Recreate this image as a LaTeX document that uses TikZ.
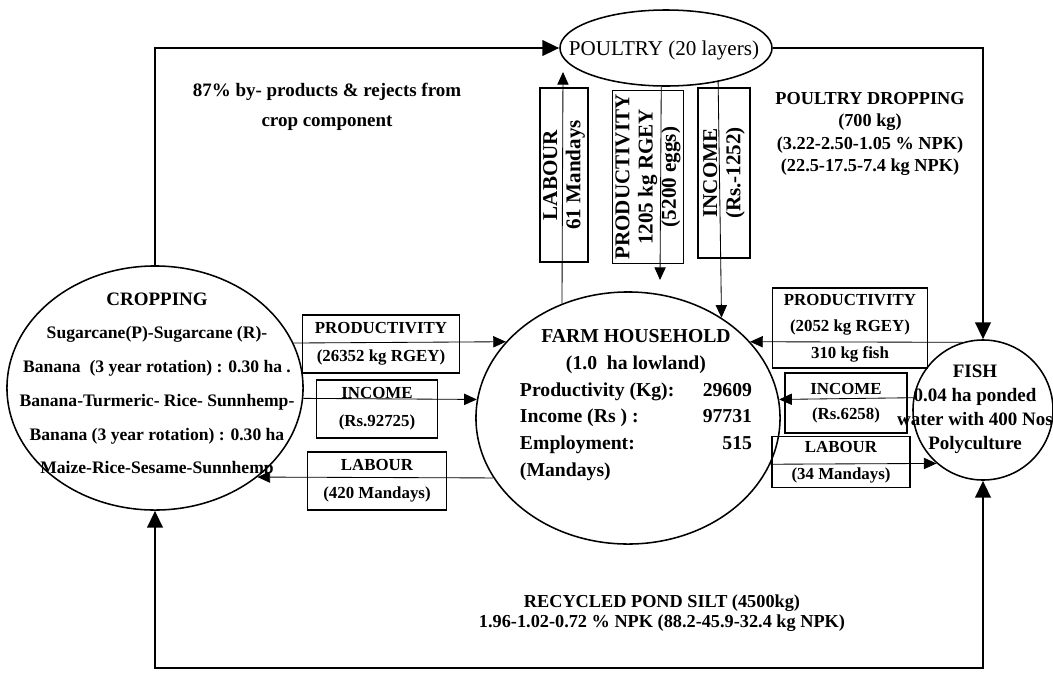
\documentclass[tikz,border=0pt]{standalone}
\usepackage{fontspec}
\setmainfont{Liberation Serif}
\usetikzlibrary{arrows.meta,shapes.geometric}

\begin{document}
\begin{tikzpicture}[x=0.025cm,y=-0.025cm,
	every node/.style={font=\bfseries},
	unit/.style={draw,ellipse,line width=1.1pt,inner sep=0pt},
	flowbox/.style={draw,line width=0.9pt,inner sep=0pt,align=center,font=\bfseries\fontsize{12}{20}\selectfont},
	vbox/.style={flowbox,rotate=90,font=\bfseries\fontsize{15}{16.5}\selectfont},
	flow/.style={line width=0.6pt,-{Triangle[length=9pt,width=8pt]}},
	cycleline/.style={line width=1.8pt,-{Triangle[length=12pt,width=11pt]}}]
		\useasboundingbox (0,0) rectangle (1053,672);

		\node[unit,minimum width=7.4cm,minimum height=6.1cm] (crop) at (155,388) {};
		\node[unit,minimum width=7.6cm,minimum height=6.3cm] (farm) at (628,418) {};
		\node[unit,minimum width=3.5cm,minimum height=3.5cm] (fish) at (983,410) {};
		\node[unit,minimum width=5.3cm,minimum height=1.9cm] (poultry) at (666,48) {};

		\node[font=\fontsize{15}{16}\selectfont] (poultrytext) at (664,50) {POULTRY (20 layers)};
		\node[align=center,font=\bfseries\fontsize{12.5}{24}\selectfont] (croptext) at (157,385) {{\fontsize{13.5}{24}\selectfont CROPPING}\\Sugarcane(P)-Sugarcane (R)-\\Banana\ \ (3 year rotation) : 0.30 ha .\\Banana-Turmeric- Rice- Sunnhemp-\\Banana (3 year rotation) : 0.30 ha\hspace*{28pt}\\Maize-Rice-Sesame-Sunnhemp};
		\node[align=center,font=\bfseries\fontsize{14}{19}\selectfont] (farmtext) at (636,405) {FARM HOUSEHOLD\\(1.0\ \ ha lowland)\\\makebox[165pt]{Productivity (Kg):\hfill 29609}\\\makebox[165pt]{Income (Rs ) :\hfill 97731}\\\makebox[165pt]{Employment:\hfill 515}\\\makebox[165pt]{(Mandays)\hfill}};
		\node[align=center,font=\bfseries\fontsize{13.5}{17}\selectfont] (fishtext) at (975,409) {FISH\\0.04 ha ponded\\water with 400 Nos\\Polyculture};

		\node[align=center,font=\bfseries\fontsize{13.5}{21}\selectfont] (rejects) at (327,107) {87\% by- products \& rejects from\\crop component};
		\node[align=center,font=\bfseries\fontsize{13}{16}\selectfont] (dropping) at (870,134) {POULTRY DROPPING\\(700 kg)\\(3.22-2.50-1.05 \% NPK)\\(22.5-17.5-7.4 kg NPK)};
		\node[align=center,font=\bfseries\fontsize{13}{14.5}\selectfont] (silt) at (662,613) {RECYCLED POND SILT (4500kg)\\1.96-1.02-0.72 \% NPK (88.2-45.9-32.4 kg NPK)};

		\coordinate (siltline) at (560,668);
		\draw[cycleline] (crop.north) |- (poultry.west);
		\draw[cycleline] (poultry.east) -| (fish.north);
		\draw[cycleline,{Triangle[length=12pt,width=11pt]}-{Triangle[length=12pt,width=11pt]}] (crop.south) |- (siltline) -| (fish.south);

		\node[flowbox,minimum width=3.925cm,minimum height=1.45cm] (cpbox) at (381,344) {PRODUCTIVITY\\(26352 kg RGEY)};
		\node[flowbox,minimum width=3.025cm,minimum height=1.45cm] (cibox) at (377,409) {INCOME\\(Rs.92725)};
		\node[flowbox,minimum width=3.475cm,minimum height=1.45cm] (clbox) at (377,481) {LABOUR\\(420 Mandays)};
		\draw[flow] (crop.18) -- (farm.148);
		\draw[flow] (crop.-4) -- (farm.173);
		\draw[flow] (farm.204) -- (crop.-41);

		\node[flowbox,minimum width=3.875cm,minimum height=2cm,font=\bfseries\fontsize{12}{19}\selectfont] (fpbox) at (850,328) {PRODUCTIVITY\\(2052 kg RGEY)\\310 kg fish};
		\node[flowbox,minimum width=3.05cm,minimum height=1.5cm,font=\bfseries\fontsize{12}{18}\selectfont] (fibox) at (846,403) {INCOME\\(Rs.6258)};
		\node[flowbox,minimum width=3.45cm,minimum height=1.275cm,font=\bfseries\fontsize{12}{19}\selectfont] (flbox) at (841,462) {LABOUR\\(34 Mandays)};
		\draw[flow] (fish.107) -- (farm.32);
		\draw[flow] (fish.170) -- (farm.7);
		\draw[flow] (farm.-18) -- (fish.229);

		\node[vbox,minimum width=4.35cm,minimum height=1.2cm] (plbox) at (564,175) {LABOUR\\61 Mandays};
		\node[vbox,minimum width=4.325cm,minimum height=1.775cm] (ppbox) at (648,177) {PRODUCTIVITY\\1205 kg RGEY\\(5200 eggs)};
		\node[vbox,minimum width=4.25cm,minimum height=1.3cm] (pibox) at (724,173) {INCOME\\(Rs.-1252)};
		\coordinate (labourtip) at (563,72);
		\coordinate (eggtip) at (660,280);
		\draw[flow] (farm.120) -- (labourtip);
		\draw[flow] (poultry.-97) -- (eggtip);
		\draw[flow] (poultry.-33) -- (farm.47);
	\end{tikzpicture}
\end{document}
